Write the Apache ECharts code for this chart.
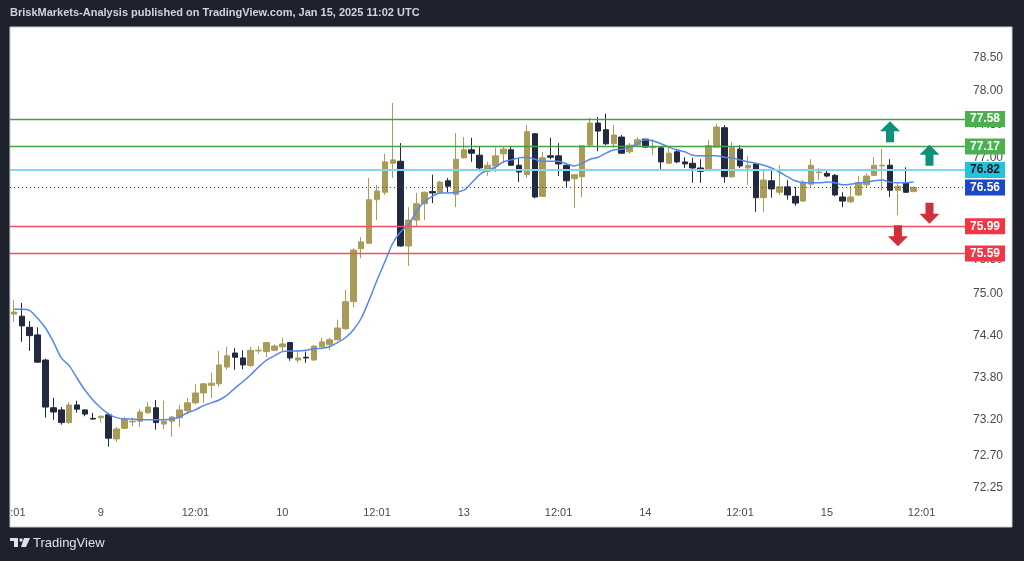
<!DOCTYPE html>
<html><head><meta charset="utf-8">
<script src="https://cdn.jsdelivr.net/npm/echarts@6/dist/echarts.min.js"></script>
<style>html,body{margin:0;padding:0;background:#1e222d}#c{width:1024px;height:561px}</style>
</head><body><div id="c"></div>
<script>
// hourly candles [open, close, low, high]
const candles = [
[74.71,74.74,74.60,74.91],[74.68,74.54,74.31,74.87],[74.52,74.40,74.18,74.61],[74.41,74.02,74.01,74.52],
[74.05,73.38,73.23,74.07],[73.37,73.31,73.20,73.51],[73.34,73.16,73.13,73.38],[73.16,73.41,73.14,73.45],
[73.41,73.35,73.30,73.47],[73.34,73.28,73.25,73.35],[73.22,73.21,73.20,73.30],[73.23,73.25,73.16,73.26],
[73.27,72.94,72.82,73.30],[72.93,73.07,72.89,73.10],[73.08,73.21,73.07,73.24],[73.17,73.18,73.11,73.23],
[73.18,73.31,73.10,73.35],[73.30,73.38,73.28,73.45],[73.37,73.16,73.06,73.48],[73.14,73.18,73.07,73.47],
[73.18,73.24,72.96,73.25],[73.23,73.34,73.10,73.41],[73.33,73.44,73.28,73.51],[73.44,73.58,73.42,73.71],
[73.58,73.71,73.44,73.72],[73.69,73.72,73.51,73.87],[73.71,73.98,73.67,74.18],[73.95,74.11,73.91,74.24],
[74.15,74.09,73.91,74.22],[74.08,73.98,73.92,74.19],[73.97,74.19,73.95,74.24],[74.18,74.19,74.14,74.25],
[74.17,74.30,74.09,74.31],[74.19,74.25,74.18,74.27],[74.24,74.28,74.17,74.37],[74.30,74.08,74.04,74.31],
[74.05,74.08,74.01,74.19],[74.09,74.08,74.01,74.17],[74.05,74.25,74.04,74.26],[74.24,74.31,74.23,74.37],
[74.27,74.34,74.19,74.37],[74.34,74.51,74.33,74.63],[74.50,74.89,74.48,75.06],[74.89,75.64,74.81,75.67],
[75.66,75.76,75.52,75.83],[75.74,76.38,75.73,76.70],[76.38,76.51,76.08,76.60],[76.49,76.94,76.45,77.06],
[76.92,76.97,76.70,77.82],[76.95,75.70,75.69,77.22],[75.70,76.08,75.41,76.27],[76.08,76.32,75.99,76.48],
[76.32,76.49,76.08,76.50],[76.50,76.48,76.33,76.75],[76.49,76.64,76.48,76.66],[76.66,76.58,76.49,76.70],
[76.46,76.98,76.27,77.37],[77.00,77.12,76.99,77.31],[77.12,77.07,76.94,77.30],[77.04,76.85,76.80,77.16],
[76.80,76.89,76.73,76.94],[76.88,77.03,76.79,77.15],[77.06,77.13,76.92,77.16],[77.12,76.89,76.88,77.18],
[76.89,76.79,76.64,77.00],[76.75,77.39,76.70,77.49],[77.36,76.42,76.40,77.37],[76.43,77.00,76.42,77.09],
[77.03,77.01,76.98,77.30],[77.03,76.91,76.73,77.22],[76.89,76.66,76.57,76.92],[76.69,76.75,76.26,76.75],
[76.72,77.18,76.42,77.19],[77.19,77.52,77.18,77.60],[77.52,77.40,77.10,77.61],[77.42,77.21,77.19,77.66],
[77.21,77.34,77.15,77.49],[77.31,77.07,77.06,77.34],[77.09,77.19,77.06,77.22],[77.19,77.27,77.18,77.31],
[77.28,77.16,77.15,77.28],[77.15,77.17,77.04,77.28],[77.15,76.94,76.82,77.15],[76.92,77.07,76.92,77.16],
[77.09,76.94,76.92,77.12],[76.94,76.91,76.85,77.01],[76.92,76.85,76.63,77.00],[76.85,76.80,76.63,76.98],
[76.82,77.18,76.81,77.27],[77.16,77.46,77.15,77.51],[77.45,76.72,76.63,77.49],[76.72,77.15,76.70,77.24],
[77.13,76.88,76.85,77.19],[76.85,76.89,76.60,77.03],[76.91,76.41,76.20,76.92],[76.41,76.67,76.20,76.82],
[76.66,76.54,76.41,76.82],[76.49,76.57,76.45,76.89],[76.57,76.45,76.38,76.67],[76.43,76.33,76.29,76.57],
[76.36,76.64,76.35,76.67],[76.61,76.89,76.55,76.98],[76.78,76.79,76.67,76.85],[76.77,76.73,76.71,76.82],
[76.74,76.45,76.43,76.76],[76.42,76.36,76.27,76.49],[76.35,76.42,76.33,76.58],[76.45,76.63,76.43,76.73],
[76.60,76.73,76.57,76.77],[76.74,76.89,76.73,77.01],[76.88,76.89,76.52,77.13],[76.89,76.52,76.42,76.98],
[76.52,76.58,76.15,76.64],[76.63,76.49,76.48,76.86],[76.50,76.56,76.49,76.58]
];
// moving average
const ma = [
74.78,74.78,74.76,74.65,74.51,74.31,74.08,73.97,73.79,73.62,73.48,73.37,73.28,73.23,73.21,73.21,73.20,73.20,73.20,73.20,
73.21,73.24,73.30,73.34,73.40,73.44,73.48,73.55,73.65,73.74,73.84,73.95,74.05,74.11,74.17,74.18,74.18,74.19,74.21,74.22,
74.24,74.30,74.37,74.48,74.65,74.91,75.20,75.47,75.74,75.91,76.01,76.21,76.35,76.43,76.48,76.48,76.49,76.52,76.63,76.75,
76.82,76.86,76.94,76.97,77.00,77.01,76.98,76.95,76.95,76.95,76.91,76.88,76.92,76.98,77.01,77.07,77.12,77.13,77.16,77.21,
77.27,77.25,77.21,77.16,77.12,77.09,77.04,77.03,77.03,77.03,77.01,77.00,76.97,76.94,76.92,76.89,76.85,76.79,76.72,76.66,
76.63,76.63,76.63,76.64,76.63,76.60,76.61,76.63,76.64,76.66,76.67,76.64,76.63,76.63,76.64
];
const slotCount = 121;
const categories = Array.from({length: slotCount}, (_, i) => 'bar' + i);
const tickIndex = [0, 11, 23, 34, 46, 57, 69, 80, 92, 103, 115];
const tickText = [':01', '9', '12:01', '10', '12:01', '13', '12:01', '14', '12:01', '15', '12:01'];
const yTicks = [78.50, 78.00, 77.50, 77.00, 75.50, 75.00, 74.40, 73.80, 73.20, 72.70, 72.25];
const levels = [77.58, 77.17, 76.82, 76.56, 75.99, 75.59];
const upArrows = [[111, 77.39], [116, 77.04]];
const downArrows = [[116, 76.18], [112, 75.85]];

const FONT = '"Liberation Sans", Arial, sans-serif';
const GOLD = '#a99c58', NAVY = '#222a42';
const levelStyles = [
  {line: {color: '#43a047', width: 1.3, type: 'solid'}, bg: '#4caf50', fg: '#ffffff'},
  {line: {color: '#43a047', width: 1.3, type: 'solid'}, bg: '#4caf50', fg: '#ffffff'},
  {line: {color: '#7fd9e8', width: 2, type: 'solid'}, bg: '#22c4dd', fg: '#131722'},
  {line: {color: '#2b3fb5', width: 1, type: [1, 3]}, bg: '#1b47c8', fg: '#ffffff'},
  {line: {color: '#f0515e', width: 1.3, type: 'solid'}, bg: '#f23645', fg: '#ffffff'},
  {line: {color: '#f0515e', width: 1.3, type: 'solid'}, bg: '#f23645', fg: '#ffffff'}
];
const UP = 'path://M10,0 L20,10 L14,10 L14,21 L6,21 L6,10 L0,10 Z';
const DOWN = 'path://M6,0 L14,0 L14,11 L20,11 L10,21 L0,11 L6,11 Z';

const chart = echarts.init(document.getElementById('c'), null, {renderer: 'canvas'});
chart.setOption({
  animation: false,
  backgroundColor: '#1e222d',
  graphic: {elements: [
    {type: 'rect', z: -100, shape: {x: 10, y: 27, width: 1002, height: 500},
      style: {fill: '#ffffff', stroke: '#c9ccd3', lineWidth: 1}},
    {type: 'text', x: 10, y: 7, z: 10, style: {text: 'BriskMarkets-Analysis published on TradingView.com, Jan 15, 2025 11:02 UTC',
      fill: '#d1d4dc', font: '600 11px ' + FONT}},
    {type: 'rect', z: 10, shape: {x: 10, y: 538, width: 8, height: 3}, style: {fill: '#e0e3eb'}},
    {type: 'rect', z: 10, shape: {x: 14, y: 538, width: 4, height: 9}, style: {fill: '#e0e3eb'}},
    {type: 'circle', z: 10, shape: {cx: 21, cy: 540, r: 1.7}, style: {fill: '#e0e3eb'}},
    {type: 'polygon', z: 10, shape: {points: [[24, 538], [30, 538], [26, 547], [21, 547]]}, style: {fill: '#e0e3eb'}},
    {type: 'text', x: 33, y: 537, z: 10, style: {text: 'TradingView', fill: '#e0e3eb', font: '13px ' + FONT}}
  ]},
  grid: {left: 10, right: 59, top: 27, bottom: 61, containLabel: false},
  xAxis: {
    type: 'category', data: categories, boundaryGap: true,
    axisLine: {show: false}, axisTick: {show: false}, splitLine: {show: false},
    axisLabel: {
      interval: (i) => tickIndex.includes(i),
      formatter: (v, i) => {
        const k = tickIndex.indexOf(i);
        if (k < 0) return '';
        return k === 0 ? '{a|' + tickText[k] + '}' : tickText[k];
      },
      rich: {a: {padding: [0, 0, 0, 8], color: '#4a4a4a', fontSize: 11, fontFamily: FONT}},
      color: '#4a4a4a', fontSize: 11, fontFamily: FONT, margin: 7
    }
  },
  yAxis: {
    type: 'log', logBase: 10, position: 'right', min: 72.074, max: 78.972, scale: true,
    axisLine: {show: false}, axisTick: {show: false}, splitLine: {show: false},
    axisLabel: {customValues: yTicks, formatter: (v) => Number(v).toFixed(2),
      color: '#4a4a4a', fontSize: 12, fontFamily: FONT, margin: 8}
  },
  series: [
    {
      type: 'line', data: [], z: 1, silent: true, symbol: 'none',
      markLine: {
        silent: true, symbol: ['none', 'none'], animation: false,
        data: levels.map((v, i) => ({
          yAxis: v,
          lineStyle: levelStyles[i].line,
          label: {show: true, position: 'end', distance: 0, formatter: () => v.toFixed(2),
            backgroundColor: levelStyles[i].bg, color: levelStyles[i].fg,
            padding: [2, 5, 2, 5], fontSize: 12, fontFamily: FONT, fontWeight: 'bold'}
        }))
      }
    },
    {
      type: 'candlestick', data: candles, barWidth: 6, z: 2,
      itemStyle: {color: GOLD, color0: NAVY, borderColor: GOLD, borderColor0: NAVY, borderWidth: 1},
      emphasis: {disabled: true}
    },
    {
      type: 'line', data: ma, symbol: 'none', smooth: 0.3, z: 3,
      lineStyle: {color: '#5586f2', width: 1.5},
      emphasis: {disabled: true},
      markPoint: {
        silent: true, label: {show: false},
        data: upArrows.map(a => ({coord: a, symbol: UP, symbolSize: [20, 21], itemStyle: {color: '#0b9278'}}))
          .concat(downArrows.map(a => ({coord: a, symbol: DOWN, symbolSize: [20, 21], itemStyle: {color: '#d22f3d'}})))
      }
    }
  ]
});
</script></body></html>
